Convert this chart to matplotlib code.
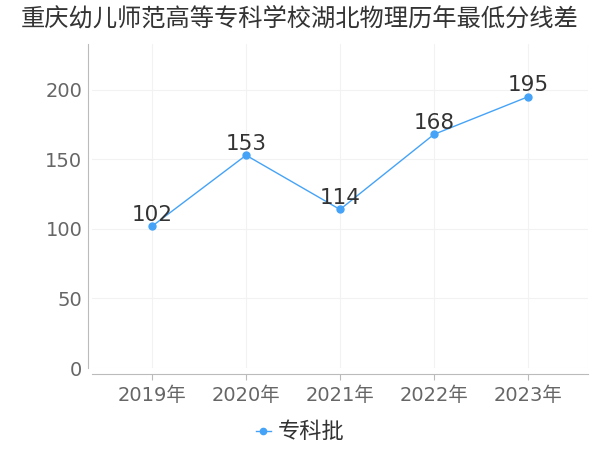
import matplotlib
matplotlib.use("Agg")
import matplotlib.pyplot as plt

plt.rcParams['font.family'] = ['DejaVu Sans', 'Noto Sans CJK SC']

# 数据
years = ['2019年', '2020年', '2021年', '2022年', '2023年']
scores = [102, 153, 114, 168, 195]
series_name = '专科批'
title = '重庆幼儿师范高等专科学校湖北物理历年最低分线差'

line_color = '#45a3f7'
cjk = ['Noto Sans CJK SC', 'DejaVu Sans']

fig = plt.figure(figsize=(6, 4.5), dpi=100)
ax = fig.add_axes([92 / 600, 82 / 450, 496 / 600, 324 / 450])

x = list(range(len(years)))
ax.plot(x, scores, color=line_color, lw=1, marker='o', ms=5, label=series_name)
for xi, v in zip(x, scores):
    ax.annotate(str(v), (xi, v), xytext=(0, 1), textcoords='offset points',
                ha='center', va='bottom', fontsize=15.5, color='#333333')

ax.set_xlim(-0.64, 4.64)
ax.set_ylim(0, 233)
ax.set_xticks(x)
ax.set_xticklabels(years)
ax.set_yticks([0, 50, 100, 150, 200])

ax.grid(True, color='#f2f2f2', lw=0.8)
ax.axvline(4.64, color='#f2f2f2', lw=0.8)
ax.set_axisbelow(True)

for s in ['top', 'right']:
    ax.spines[s].set_visible(False)
ax.spines['left'].set_position(('outward', 3))
ax.spines['bottom'].set_position(('outward', 4))
ax.spines['left'].set_color('#bbbbbb')
ax.spines['bottom'].set_color('#bbbbbb')

ax.tick_params(axis='y', length=0, pad=4, labelsize=14, labelcolor='#666666')
ax.tick_params(axis='x', length=4, color='#bbbbbb', pad=5, labelsize=14,
               labelcolor='#666666')

fig.suptitle(title, x=0.5, y=0.988, fontsize=17.5, color='#333333', family=cjk)

fig.legend(loc='center', bbox_to_anchor=(0.5, 0.04), frameon=False,
           prop={'family': cjk, 'size': 16}, labelcolor='#333333',
           handlelength=0.7, handletextpad=0.3, markerscale=0.9)

fig.savefig('out.png', dpi=100)
